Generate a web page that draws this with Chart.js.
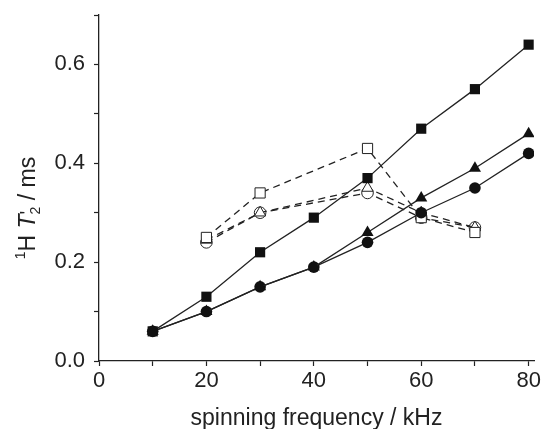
<!DOCTYPE html>
<html>
<head>
<meta charset="utf-8">
<script src="https://cdn.jsdelivr.net/npm/chart.js@4.4.1/dist/chart.umd.min.js"></script>
<style>
  html, body { margin: 0; padding: 0; background: #fff; }
  #wrap { width: 544px; height: 429px; }
</style>
</head>
<body>
<div id="wrap"><canvas id="t2-chart" width="544" height="429"></canvas></div>
<script>
"use strict";

/* ── data ───────────────────────────────────────────────── */
const freqs        = [10, 20, 30, 40, 50, 60, 70, 80];
const filledSquare = [0.06, 0.13, 0.22, 0.29, 0.37, 0.47, 0.55, 0.64];
const filledTri    = [0.06, 0.10, 0.15, 0.19, 0.26, 0.33, 0.39, 0.46];
const filledCircle = [0.06, 0.10, 0.15, 0.19, 0.24, 0.30, 0.35, 0.42];

const openFreqs    = [20, 30, 50, 60, 70];
const openSquare   = [0.25, 0.34, 0.43, 0.29, 0.26];
const openTri      = [0.245, 0.30, 0.35, 0.30, 0.27];
const openCircle   = [0.24, 0.30, 0.34, 0.29, 0.27];

const xTicks      = [0, 10, 20, 30, 40, 50, 60, 70, 80];
const xTickLabels = [0, 20, 40, 60, 80];
const yTickLabels = ['0.0', '0.2', '0.4', '0.6'];

/* ── style ──────────────────────────────────────────────── */
const INK  = '#222222';
const FONT = '"Liberation Sans", Arial, Helvetica, sans-serif';

const pts = (xs, ys) => xs.map((x, i) => ({ x, y: ys[i] }));

function solid(data, style, radius) {
  return {
    data, pointStyle: style, pointRadius: radius,
    backgroundColor: '#111', borderColor: INK, pointBorderColor: '#111',
    borderWidth: 1.3, pointBorderWidth: 0, tension: 0,
  };
}
function dashed(data, style, radius) {
  return {
    data, pointStyle: style, pointRadius: radius,
    backgroundColor: '#fff', pointBackgroundColor: '#fff',
    borderColor: INK, pointBorderColor: INK,
    borderWidth: 1.3, pointBorderWidth: 1, borderDash: [7, 5], tension: 0,
  };
}

/* ── y axis title with italic T, prime and sub/superscripts ── */
const yTitlePlugin = {
  id: 'yTitle',
  afterDraw(chart) {
    const ctx = chart.ctx;
    // adv: false -> next part starts at the same place (prime stacked over subscript)
    const parts = [
      { t: '1',     f: `14px ${FONT}`,        dy: -10, adv: true },
      { t: 'H ',    f: `23px ${FONT}`,        dy: 0,   adv: true },
      { t: 'T',     f: `italic 23px ${FONT}`, dy: 0,   adv: true },
      { t: '\'',    f: `20px ${FONT}`,        dy: -1,  adv: false },
      { t: '2',     f: `14px ${FONT}`,        dy: 5,   adv: true },
      { t: ' / ms', f: `23px ${FONT}`,        dy: 0,   adv: true },
    ];
    ctx.save();
    let total = 0;
    parts.forEach(p => {
      ctx.font = p.f;
      p.w = ctx.measureText(p.t).width;
      if (p.adv) total += p.w;
    });
    ctx.translate(35, 208);
    ctx.rotate(-Math.PI / 2);
    ctx.fillStyle = INK;
    ctx.textBaseline = 'alphabetic';
    let x = -total / 2;
    parts.forEach(p => {
      ctx.font = p.f;
      ctx.fillText(p.t, x, p.dy);
      if (p.adv) x += p.w;
    });
    ctx.restore();
  },
};

/* ── chart ──────────────────────────────────────────────── */
new Chart(document.getElementById('t2-chart'), {
  type: 'line',
  data: {
    datasets: [
      solid(pts(freqs, filledSquare), 'rect', 7.2),
      solid(pts(freqs, filledTri), 'triangle', 7),
      solid(pts(freqs, filledCircle), 'circle', 5.8),
      dashed(pts(openFreqs, openSquare), 'rect', 7.2),
      dashed(pts(openFreqs, openTri), 'triangle', 6.5),
      dashed(pts(openFreqs, openCircle), 'circle', 5.8),
    ],
  },
  options: {
    responsive: false,
    devicePixelRatio: 1,
    animation: false,
    layout: { padding: { top: 15, right: 10, left: 0, bottom: 0 } },
    plugins: { legend: { display: false }, tooltip: { enabled: false } },
    scales: {
      x: {
        type: 'linear', min: 0, max: 81,
        afterBuildTicks: s => { s.ticks = xTicks.map(v => ({ value: v })); },
        afterFit: s => { s.height = 68; },
        ticks: {
          autoSkip: false, maxRotation: 0, padding: 2,
          color: INK, font: { family: FONT, size: 22 },
          callback: v => xTickLabels.includes(v) ? String(v) : '',
        },
        grid: { drawOnChartArea: false, tickLength: 5, tickColor: INK, tickWidth: 1.2 },
        border: { color: INK, width: 1.3 },
        title: {
          display: true, text: 'spinning frequency / kHz', color: INK,
          font: { family: FONT, size: 23 }, padding: { top: 0, bottom: -3 },
        },
      },
      y: {
        type: 'linear', min: 0, max: 0.7,
        afterFit: s => { s.width = 99; s.paddingTop = 0; },
        ticks: {
          stepSize: 0.1, autoSkip: false, padding: 9,
          color: INK, font: { family: FONT, size: 22 },
          callback: v => {
            const s = v.toFixed(1);
            return yTickLabels.includes(s) ? s : '';
          },
        },
        grid: { drawOnChartArea: false, tickLength: 5, tickColor: INK, tickWidth: 1.2 },
        border: { color: INK, width: 1.3 },
      },
    },
  },
  plugins: [yTitlePlugin],
});
</script>
</body>
</html>
